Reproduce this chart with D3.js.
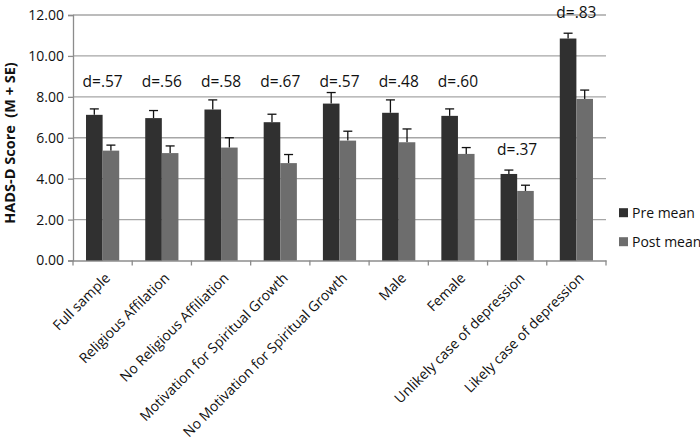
<!DOCTYPE html>
<html><head><meta charset="utf-8">
<script src="https://cdn.jsdelivr.net/npm/d3@7/dist/d3.min.js"></script>
<style>
body{margin:0;background:#fff;}
text{font-family:"Open Sans",sans-serif;fill:#111;}
</style></head><body>
<svg id="chart" width="700" height="444"></svg>
<script>
const categories = ["Full sample","Religious Affilation","No Religious Affiliation","Motivation for Spiritual Growth","No Motivation for Spiritual Growth","Male","Female","Unlikely case of depression","Likely case of depression"];
const preMean = [7.12,6.96,7.38,6.76,7.67,7.22,7.07,4.23,10.85];
const preSE   = [0.29,0.37,0.47,0.39,0.54,0.63,0.34,0.19,0.26];
const postMean= [5.37,5.25,5.52,4.76,5.86,5.78,5.21,3.40,7.90];
const postSE  = [0.27,0.35,0.48,0.42,0.46,0.65,0.31,0.28,0.43];
const dLabels = ["d=.57","d=.56","d=.58","d=.67","d=.57","d=.48","d=.60","d=.37","d=.83"];
const dLabelAt = [8.73,8.73,8.73,8.73,8.73,8.73,8.73,5.41,12.1];
const yTicks = [0,2,4,6,8,10,12];
const seriesNames = ["Pre mean","Post mean"];
const seriesColors = ["#303030","#6d6d6d"];

const svg = d3.select("#chart");
const m = {l:73, r:94, t:15, b:183.5};
const W = 700, H = 444;
const x = d3.scaleBand().domain(categories).range([m.l, W-m.r]).paddingInner(0).paddingOuter(0);
const x1 = d3.scaleBand().domain([0,1]).range([0, 33.2]);
const y = d3.scaleLinear().domain([0,12]).range([H-m.b, m.t]);

// gridlines
svg.append("g").selectAll("line").data(yTicks.filter(d=>d>0)).join("line")
  .attr("x1", m.l).attr("x2", W-m.r).attr("y1", d=>y(d)).attr("y2", d=>y(d))
  .attr("stroke","#a6a6a6").attr("stroke-width",1.3);

// y axis
const ya = svg.append("g").attr("transform",`translate(${m.l},0)`)
  .call(d3.axisLeft(y).tickValues(yTicks).tickFormat(d3.format(".2f")).tickSize(5).tickPadding(4));
ya.select(".domain").attr("stroke","#8c8c8c").attr("stroke-width",1.3);
ya.selectAll(".tick line").attr("stroke","#8c8c8c").attr("stroke-width",1.3);
ya.selectAll("text").attr("font-size",14).attr("font-family","Open Sans").attr("fill","#111");

// x axis
const xa = svg.append("g").attr("transform",`translate(0,${y(0)})`)
  .call(d3.axisBottom(x).tickSize(0).tickFormat(""));
xa.select(".domain").attr("stroke","#8c8c8c").attr("stroke-width",1.3);
const edges = categories.map(c=>x(c)).concat([x(categories[categories.length-1])+x.bandwidth()]);
svg.append("g").selectAll("line").data(edges).join("line")
  .attr("x1",d=>d).attr("x2",d=>d).attr("y1",y(0)).attr("y2",y(0)+5)
  .attr("stroke","#8c8c8c").attr("stroke-width",1.3);

svg.append("g").selectAll("text").data(categories).join("text")
  .attr("transform", d=>`translate(${x(d)+x.bandwidth()/2+5},${y(0)+15}) rotate(-45)`)
  .attr("text-anchor","end").attr("dy","0.35em").attr("font-size",14).text(d=>d);

// bars
const groups = categories.map((c,i)=>({c, i, vals:[{s:0,v:preMean[i],e:preSE[i]},{s:1,v:postMean[i],e:postSE[i]}]}));
const gx = c => x(c)+x.bandwidth()/2-16.6;
const g = svg.append("g").selectAll("g").data(groups).join("g")
  .attr("transform", d=>`translate(${gx(d.c)},0)`);
g.selectAll("line.err").data(d=>d.vals).join("line").attr("class","err")
  .attr("x1",d=>x1(d.s)+x1.bandwidth()/2).attr("x2",d=>x1(d.s)+x1.bandwidth()/2)
  .attr("y1",d=>y(d.v)).attr("y2",d=>y(d.v+d.e)).attr("stroke","#111").attr("stroke-width",1.3);
g.selectAll("line.cap").data(d=>d.vals).join("line").attr("class","cap")
  .attr("x1",d=>x1(d.s)+x1.bandwidth()/2-4.5).attr("x2",d=>x1(d.s)+x1.bandwidth()/2+4.5)
  .attr("y1",d=>y(d.v+d.e)).attr("y2",d=>y(d.v+d.e)).attr("stroke","#111").attr("stroke-width",1.3);
g.selectAll("rect").data(d=>d.vals).join("rect")
  .attr("x",d=>x1(d.s)).attr("width",x1.bandwidth())
  .attr("y",d=>y(d.v)).attr("height",d=>y(0)-y(d.v))
  .attr("fill",d=>seriesColors[d.s]);

// d labels
svg.append("g").selectAll("text").data(categories).join("text")
  .attr("x",(d,i)=>x(d)+x.bandwidth()/2).attr("y",(d,i)=>y(dLabelAt[i]))
  .attr("dy","0.35em").attr("text-anchor","middle").attr("font-size",15.5).text((d,i)=>dLabels[i]);

// y title
svg.append("text").attr("transform","translate(9.5,143) rotate(-90)")
  .attr("text-anchor","middle").attr("dy","0.35em").attr("font-size",14.5).attr("font-weight","bold")
  .attr("xml:space","preserve").text("HADS-D Score  (M + SE)");

// legend
const lg = svg.append("g").selectAll("g").data(seriesNames).join("g")
  .attr("transform",(d,i)=>`translate(619,${212.7+i*29})`);
lg.append("rect").attr("x",0).attr("y",-4.5).attr("width",9).attr("height",9).attr("fill",(d,i)=>seriesColors[i]);
lg.append("text").attr("x",13).attr("dy","0.35em").attr("font-size",14).text(d=>d);
</script></body></html>
